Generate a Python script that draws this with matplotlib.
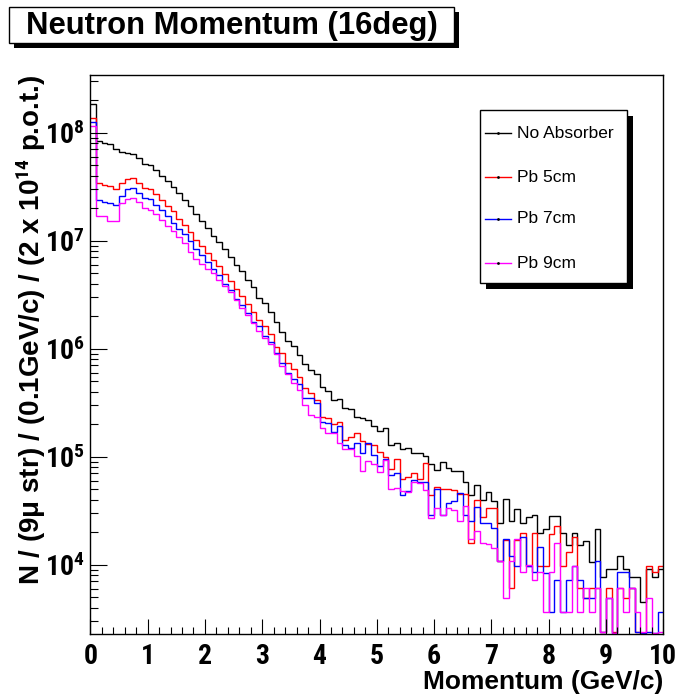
import numpy as np
import matplotlib
matplotlib.use("Agg")
import matplotlib.pyplot as plt
from matplotlib.patches import Rectangle
from matplotlib.lines import Line2D
from matplotlib.ticker import MultipleLocator, LogLocator, FuncFormatter, NullFormatter
from matplotlib import font_manager

plt.rcParams['font.family'] = 'Liberation Sans'

# narrow face for the tick numbers, if one is installed
installed = {f.name for f in font_manager.fontManager.ttflist}
tick_family, tick_size = 'Liberation Sans', 18
for cand in ['Liberation Sans Narrow', 'Roboto Condensed', 'Open Sans Condensed']:
    if cand in installed:
        tick_family, tick_size = cand, 20
        break

plt.rcParams['mathtext.fontset'] = 'custom'
plt.rcParams['mathtext.rm'] = tick_family + ':bold'
plt.rcParams['mathtext.bf'] = tick_family + ':bold'
plt.rcParams['mathtext.it'] = tick_family + ':bold'

# momentum bins, 0.1 GeV/c wide
bin_edges = np.linspace(0, 10, 101)

# log10 of the counts per bin
no_absorber_log10 = [
    8.266, 7.923, 7.907, 7.900, 7.852, 7.824, 7.809, 7.805, 7.763, 7.713,
    7.698, 7.657, 7.602, 7.550, 7.494, 7.439, 7.377, 7.321, 7.244, 7.185,
    7.115, 7.046, 6.988, 6.920, 6.846, 6.772, 6.719, 6.639, 6.574, 6.469,
    6.420, 6.337, 6.250, 6.152, 6.071, 6.022, 5.942, 5.854, 5.802, 5.766,
    5.648, 5.606, 5.525, 5.530, 5.448, 5.439, 5.370, 5.356, 5.340, 5.284,
    5.238, 5.269, 5.108, 5.130, 5.071, 5.083, 5.037, 5.031, 5.009, 4.935,
    4.874, 4.948, 4.898, 4.870, 4.870, 4.769, 4.645, 4.735, 4.599, 4.670,
    4.593, 4.383, 4.608, 4.407, 4.516, 4.383, 4.439, 4.460, 4.296, 4.328,
    4.451, 4.451, 4.291, 4.180, 4.291, 4.180, 4.222, 4.022, 4.328, 3.883,
    3.960, 3.960, 4.081, 3.960, 3.883, 3.883, 3.655, 3.960, 3.883, 3.960]

pb5_log10 = [
    8.133, 7.531, 7.516, 7.506, 7.481, 7.537, 7.571, 7.581, 7.537, 7.491,
    7.479, 7.430, 7.374, 7.324, 7.272, 7.198, 7.143, 7.081, 7.010, 6.951,
    6.889, 6.821, 6.763, 6.689, 6.627, 6.553, 6.491, 6.414, 6.340, 6.263,
    6.207, 6.139, 6.016, 5.957, 5.865, 5.809, 5.741, 5.637, 5.590, 5.525,
    5.365, 5.356, 5.303, 5.319, 5.155, 5.180, 5.217, 5.148, 5.118, 5.108,
    5.046, 5.000, 4.883, 4.981, 4.791, 4.815, 4.852, 4.791, 4.939, 4.650,
    4.717, 4.704, 4.704, 4.692, 4.652, 4.652, 4.198, 4.599, 4.439, 4.528,
    4.528, 4.037, 4.229, 3.781, 4.229, 4.291, 3.991, 4.291, 3.990, 3.988,
    4.284, 4.361, 3.985, 4.120, 4.259, 3.781, 3.689, 3.781, 3.781, 3.380,
    3.781, 3.380, 3.781, 3.689, 3.781, 3.380, 3.370, 3.988, 3.930, 3.988]

pb7_log10 = [
    8.096, 7.374, 7.361, 7.346, 7.331, 7.417, 7.479, 7.491, 7.442, 7.392,
    7.383, 7.331, 7.281, 7.229, 7.167, 7.111, 7.059, 6.994, 6.920, 6.865,
    6.803, 6.735, 6.680, 6.602, 6.541, 6.463, 6.405, 6.333, 6.250, 6.213,
    6.118, 6.059, 5.960, 5.865, 5.778, 5.717, 5.673, 5.544, 5.544, 5.494,
    5.324, 5.315, 5.231, 5.284, 5.108, 5.078, 5.130, 5.037, 5.124, 5.016,
    4.914, 4.976, 4.831, 4.846, 4.645, 4.685, 4.784, 4.769, 4.769, 4.460,
    4.704, 4.460, 4.569, 4.593, 4.661, 4.460, 4.407, 4.531, 4.383, 4.383,
    4.337, 4.037, 4.235, 4.083, 3.988, 4.259, 3.988, 3.935, 4.167, 3.926,
    3.559, 3.858, 3.559, 3.858, 3.988, 3.858, 3.689, 3.689, 4.037, 3.380,
    3.689, 3.370, 3.930, 3.930, 3.781, 3.380, 3.370, 3.380, 3.370, 3.565]

pb9_log10 = [
    8.062, 7.226, 7.226, 7.185, 7.185, 7.346, 7.386, 7.398, 7.355, 7.306,
    7.284, 7.247, 7.189, 7.136, 7.090, 7.031, 6.976, 6.895, 6.833, 6.784,
    6.738, 6.698, 6.636, 6.581, 6.525, 6.451, 6.380, 6.309, 6.241, 6.167,
    6.096, 6.046, 5.951, 5.837, 5.766, 5.680, 5.618, 5.479, 5.386, 5.365,
    5.269, 5.217, 5.220, 5.130, 5.071, 5.071, 5.006, 4.868, 4.963, 4.932,
    4.861, 4.969, 4.698, 4.707, 4.685, 4.676, 4.769, 4.754, 4.692, 4.430,
    4.522, 4.460, 4.522, 4.506, 4.407, 4.544, 4.235, 4.315, 4.198, 4.190,
    4.157, 4.034, 3.689, 4.034, 4.235, 3.930, 3.997, 3.858, 3.935, 3.565,
    3.930, 4.198, 3.559, 3.559, 3.988, 3.559, 3.781, 3.559, 3.781, 3.380,
    3.689, 3.370, 3.781, 3.559, 3.781, 3.559, 3.380, 3.689, 3.370, 3.380]

labels = ['No Absorber', 'Pb 5cm', 'Pb 7cm', 'Pb 9cm']
colors = ['black', '#ff0000', '#0000ff', '#ff00ff']
series = [no_absorber_log10, pb5_log10, pb7_log10, pb9_log10]

W, H = 681, 698
fig = plt.figure(figsize=(W / 100, H / 100), dpi=100)


def fx(px):
    return px / W


def fy(py):
    return 1 - py / H


ax = fig.add_axes([fx(90.3), fy(633.5), (663.3 - 90.3) / W, (633.5 - 74.5) / H])

for logs, c in zip(series, colors):
    ax.stairs(10 ** np.array(logs), bin_edges, baseline=None, color=c, lw=1.0)

ax.set_xlim(0, 10)
ax.set_yscale('log')
ax.set_ylim(10 ** 3.363, 10 ** 8.539)

ax.xaxis.set_major_locator(MultipleLocator(1))
ax.xaxis.set_minor_locator(MultipleLocator(0.2))
ax.yaxis.set_major_locator(LogLocator(base=10))
ax.yaxis.set_minor_locator(LogLocator(base=10, subs=np.arange(2, 10)))
ax.yaxis.set_minor_formatter(NullFormatter())
ax.yaxis.set_major_formatter(FuncFormatter(lambda v, p: r'$\mathbf{10^{%d}}$' % round(np.log10(v))))

ax.tick_params(axis='x', which='major', direction='in', length=10.8, width=0.8, top=False, pad=7)
ax.tick_params(axis='x', which='minor', direction='in', length=5.4, width=0.8, top=False)
ax.tick_params(axis='y', which='major', direction='in', length=12.2, width=0.8, right=False, pad=4)
ax.tick_params(axis='y', which='minor', direction='in', length=5.8, width=0.8, right=False)
for lab in ax.get_xticklabels():
    lab.set_fontfamily(tick_family)
    lab.set_fontweight('bold')
    lab.set_fontsize(tick_size)
for lab in ax.get_yticklabels():
    lab.set_fontsize(tick_size)
for sp in ax.spines.values():
    sp.set_linewidth(1.0)

ax.set_xlabel('Momentum (GeV/c)', fontsize=19, fontweight='bold', ha='right', va='top')
ax.xaxis.set_label_coords(1.0, -0.066)
fig.text(fx(31), fy(74.5), r'N / (9μ str) / (0.1GeV/c) / (2 x 10$^{14}$ p.o.t.)',
         rotation=90, ha='center', va='top', fontsize=20, fontweight='bold')

# title box with shadow
fig.add_artist(Rectangle((fx(14), fy(48)), (454 - 9) / W, (43 - 7) / H,
                         transform=fig.transFigure, facecolor='black', edgecolor='none'))
fig.add_artist(Rectangle((fx(9), fy(43)), (454 - 9) / W, (43 - 7) / H,
                         transform=fig.transFigure, facecolor='white', edgecolor='black', lw=1.0))
fig.text(fx(232), fy(26), 'Neutron Momentum (16deg)', ha='center', va='center',
         fontsize=22.3, fontweight='bold')

# legend box with shadow
fig.add_artist(Rectangle((fx(486), fy(289)), (627 - 480) / W, (283 - 110) / H,
                         transform=fig.transFigure, facecolor='black', edgecolor='none'))
fig.add_artist(Rectangle((fx(480), fy(283)), (627 - 480) / W, (283 - 110) / H,
                         transform=fig.transFigure, facecolor='white', edgecolor='black', lw=1.0))
entry_y = [133, 177, 219, 263]
for lab, c, yy in zip(labels, colors, entry_y):
    fig.add_artist(Line2D([fx(485), fx(511)], [fy(yy), fy(yy)], color=c, lw=1.0,
                          transform=fig.transFigure))
    fig.add_artist(Line2D([fx(498)], [fy(yy)], marker='o', markersize=1.0, color='black',
                          transform=fig.transFigure))
    fig.text(fx(517), fy(yy), lab, ha='left', va='center', fontsize=12.5)

fig.savefig('out.png', dpi=100)
